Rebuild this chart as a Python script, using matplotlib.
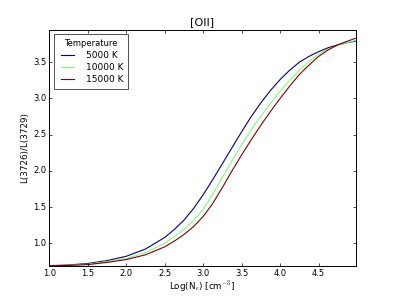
import matplotlib
matplotlib.use("Agg")
import matplotlib.pyplot as plt

# log10 electron density
log_ne = [1.0, 1.25, 1.5, 1.75, 2.0, 2.25, 2.5, 2.625, 2.75, 2.875,
          3.0, 3.125, 3.25, 3.375, 3.5, 3.625, 3.75, 3.875, 4.0, 4.125,
          4.25, 4.375, 4.5, 4.625, 4.75, 4.875, 4.98]

# L(3726)/L(3729)
ratio_5000 = [0.69, 0.70, 0.72, 0.76, 0.82, 0.92, 1.08, 1.19, 1.32, 1.48,
              1.67, 1.88, 2.10, 2.32, 2.54, 2.75, 2.94, 3.11, 3.26, 3.39,
              3.50, 3.58, 3.645, 3.70, 3.74, 3.77, 3.79]
ratio_10000 = [0.69, 0.695, 0.71, 0.745, 0.79, 0.87, 1.00, 1.09, 1.19, 1.31,
               1.47, 1.68, 1.91, 2.14, 2.36, 2.57, 2.75, 2.93, 3.10, 3.25,
               3.39, 3.51, 3.61, 3.68, 3.73, 3.77, 3.80]
ratio_15000 = [0.69, 0.693, 0.705, 0.735, 0.775, 0.84, 0.95, 1.03, 1.12, 1.23,
               1.37, 1.55, 1.77, 2.00, 2.22, 2.43, 2.63, 2.82, 3.00, 3.17,
               3.33, 3.46, 3.58, 3.67, 3.74, 3.79, 3.83]

temps = ["5000 K", "10000 K", "15000 K"]
series = [ratio_5000, ratio_10000, ratio_15000]

plt.style.use("classic")
plt.rcParams["figure.facecolor"] = "white"
plt.rcParams["savefig.facecolor"] = "white"
plt.rcParams["font.family"] = "DejaVu Sans"

fig = plt.figure(figsize=(3.95, 2.96), dpi=100)
ax = fig.add_axes([0.125, 0.1, 0.775, 0.8])

cols = [plt.cm.jet(0.0), plt.cm.jet(0.5), plt.cm.jet(1.0)]
for vals, lab, c in zip(series, temps, cols):
    ax.plot(log_ne, vals, color=c, lw=0.8, label=lab)

ax.set_xlim(1.0, 4.98)
ax.set_ylim(0.68, 3.95)
ax.set_xticks([1.0, 1.5, 2.0, 2.5, 3.0, 3.5, 4.0, 4.5])
ax.set_yticks([1.0, 1.5, 2.0, 2.5, 3.0, 3.5])
ax.tick_params(labelsize=6, length=2.2, width=0.5, pad=2)
for sp in ax.spines.values():
    sp.set_linewidth(0.7)

ax.set_xlabel("Log(N$_e$) [cm$^{-3}$]", fontsize=6.3, labelpad=1)
ax.set_ylabel("L(3726)/L(3729)", fontsize=6.3, labelpad=3)
ax.set_title("[OII]", fontsize=8, pad=3)

leg = ax.legend(loc="upper left", title="Temperature", fontsize=6.5,
                frameon=True, fancybox=False, handlelength=2.0,
                borderpad=0.5, labelspacing=0.35, handletextpad=1.1,
                borderaxespad=0.5)
leg.get_title().set_fontsize(6)
leg.get_frame().set_linewidth(0.6)
leg.get_frame().set_edgecolor("#333333")

fig.savefig("out.png", dpi=100)
